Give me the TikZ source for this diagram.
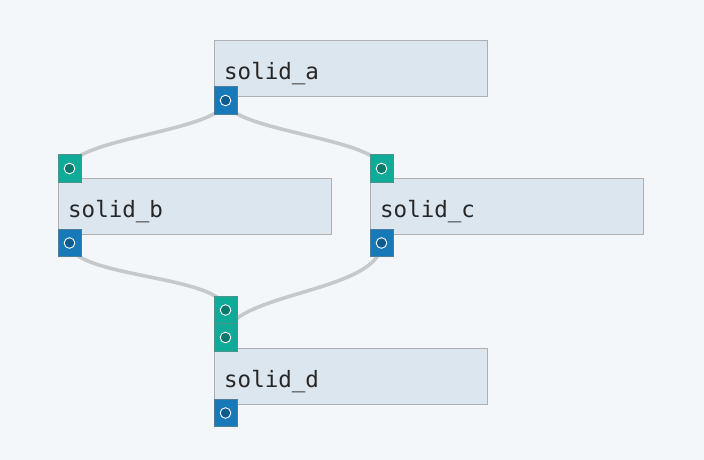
\documentclass[tikz,border=0pt]{standalone}
\usepackage{fontspec}
\setmonofont{DejaVu Sans Mono}
\definecolor{bg}{HTML}{F3F7FA}
\definecolor{boxfill}{HTML}{DCE6EF}
\definecolor{boxline}{HTML}{AEB0B3}
\definecolor{outport}{HTML}{1779B8}
\definecolor{outdot}{HTML}{0F5B8C}
\definecolor{inport}{HTML}{10AA99}
\definecolor{indot}{HTML}{0B786D}
\definecolor{edge}{HTML}{C5C9CC}
\begin{document}
\begin{tikzpicture}[x=1pt,y=-1pt,
  solidbox/.style={draw=boxline, fill=boxfill, line width=0.8pt, anchor=north west,
    minimum width=273pt, minimum height=56pt, inner sep=0pt},
  lbl/.style={anchor=base west, inner sep=0pt, font=\ttfamily\fontsize{22.5}{26}\selectfont, text=black!85},
  portout/.style={draw=gray!55!outport, fill=outport, line width=0.7pt, minimum width=23pt, minimum height=27.5pt, inner sep=0pt},
  portin/.style={draw=gray!55!inport, fill=inport, line width=0.7pt, minimum width=23pt, minimum height=27.5pt, inner sep=0pt},
  wire/.style={draw=edge, line width=3.6pt}
]
\fill[bg] (0,0) rectangle (704,460);
\useasboundingbox (0,0) rectangle (704,460);

% boxes
\node[solidbox] (a) at (214,40) {};
\node[solidbox] (b) at (58,178) {};
\node[solidbox] (c) at (370,178) {};
\node[solidbox] (d) at (214,348) {};
\node[lbl] (ta) at (224,79.5) {solid\_a};
\node[lbl] (tb) at (68,217.5) {solid\_b};
\node[lbl] (tc) at (380,217.5) {solid\_c};
\node[lbl] (td) at (224,387.5) {solid\_d};

% port positions
\coordinate (aout) at (225.5,100.5);
\coordinate (bin) at (69.5,168.5);
\coordinate (bout) at (69.5,243);
\coordinate (cin) at (381.5,168.5);
\coordinate (cout) at (381.5,243);
\coordinate (din1) at (225.5,310);
\coordinate (din2) at (225.5,337.5);
\coordinate (dout) at (225.5,413);

% wires
\draw[wire] (aout) .. controls +(0,30) and +(0,-30) .. (bin);
\draw[wire] (aout) .. controls +(0,30) and +(0,-30) .. (cin);
\draw[wire] (bout) .. controls +(0,35) and +(0,-35) .. (din1);
\draw[wire] (cout) .. controls +(0,50) and +(0,-45) .. (din2);

% port squares on top
\foreach \p/\s/\dc in {aout/portout/outdot, bin/portin/indot, bout/portout/outdot, cin/portin/indot, cout/portout/outdot, din1/portin/indot, din2/portin/indot, dout/portout/outdot}{
  \node[\s] (\p sq) at (\p) {};
  \fill[draw=white, line width=0.9pt, fill=\dc] (\p) circle (5.3pt);
}
\end{tikzpicture}
\end{document}
